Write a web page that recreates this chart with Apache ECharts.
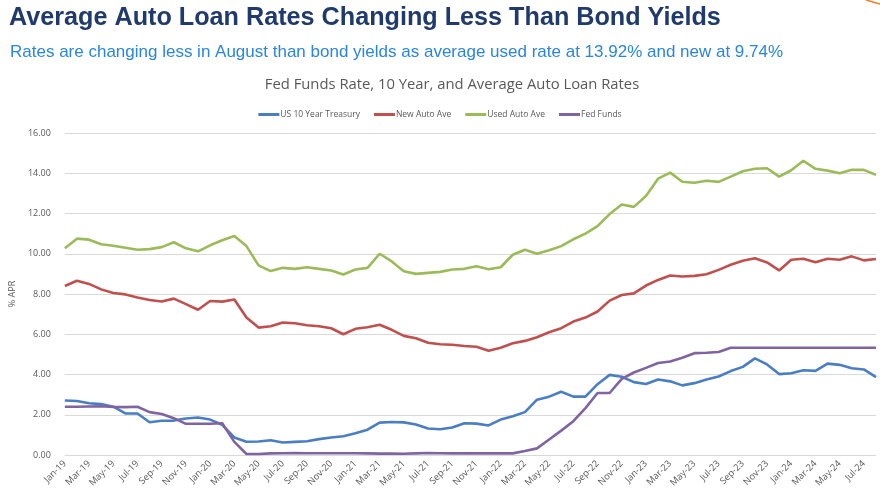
<!DOCTYPE html>
<html>
<head>
<meta charset="utf-8">
<script src="https://cdn.jsdelivr.net/npm/echarts@6/dist/echarts.min.js"></script>
<style>
html,body{margin:0;padding:0;background:#fff;}
#chart{width:880px;height:495px;}
</style>
</head>
<body>
<div id="chart"></div>
<script>
const months = ["Jan-19","Feb-19","Mar-19","Apr-19","May-19","Jun-19","Jul-19","Aug-19","Sep-19","Oct-19","Nov-19","Dec-19",
"Jan-20","Feb-20","Mar-20","Apr-20","May-20","Jun-20","Jul-20","Aug-20","Sep-20","Oct-20","Nov-20","Dec-20",
"Jan-21","Feb-21","Mar-21","Apr-21","May-21","Jun-21","Jul-21","Aug-21","Sep-21","Oct-21","Nov-21","Dec-21",
"Jan-22","Feb-22","Mar-22","Apr-22","May-22","Jun-22","Jul-22","Aug-22","Sep-22","Oct-22","Nov-22","Dec-22",
"Jan-23","Feb-23","Mar-23","Apr-23","May-23","Jun-23","Jul-23","Aug-23","Sep-23","Oct-23","Nov-23","Dec-23",
"Jan-24","Feb-24","Mar-24","Apr-24","May-24","Jun-24","Jul-24","Aug-24"];

const treasury10y = [2.71,2.68,2.57,2.53,2.40,2.07,2.06,1.63,1.70,1.71,1.81,1.86,
1.76,1.50,0.87,0.66,0.67,0.73,0.62,0.65,0.68,0.79,0.87,0.93,
1.08,1.26,1.61,1.64,1.62,1.52,1.32,1.28,1.37,1.58,1.56,1.47,
1.76,1.93,2.13,2.75,2.90,3.14,2.90,2.90,3.52,3.98,3.89,3.62,
3.53,3.75,3.66,3.46,3.57,3.75,3.90,4.17,4.38,4.80,4.50,4.02,
4.06,4.21,4.18,4.54,4.48,4.31,4.25,3.87];

const newAutoAve = [8.40,8.66,8.50,8.23,8.05,7.98,7.83,7.70,7.63,7.77,7.50,7.22,
7.65,7.62,7.73,6.83,6.33,6.40,6.58,6.55,6.45,6.40,6.30,6.00,
6.27,6.35,6.47,6.22,5.92,5.80,5.58,5.50,5.48,5.42,5.38,5.18,
5.33,5.55,5.67,5.85,6.10,6.30,6.63,6.83,7.13,7.67,7.95,8.03,
8.42,8.70,8.92,8.87,8.90,8.98,9.20,9.45,9.65,9.78,9.57,9.17,
9.70,9.75,9.58,9.75,9.70,9.87,9.67,9.74];

const usedAutoAve = [10.27,10.75,10.70,10.47,10.40,10.30,10.20,10.23,10.33,10.57,10.27,10.12,
10.42,10.67,10.88,10.38,9.42,9.14,9.30,9.25,9.33,9.25,9.17,8.97,
9.22,9.30,10.00,9.62,9.13,9.00,9.05,9.10,9.22,9.25,9.38,9.23,
9.33,9.95,10.20,10.00,10.17,10.38,10.72,11.00,11.37,11.97,12.45,12.33,
12.87,13.73,14.03,13.58,13.53,13.63,13.57,13.83,14.10,14.22,14.25,13.83,
14.15,14.62,14.22,14.13,14.00,14.17,14.17,13.92];

const fedFunds = [2.40,2.40,2.41,2.42,2.39,2.38,2.40,2.13,2.04,1.83,1.55,1.55,
1.55,1.58,0.65,0.05,0.05,0.08,0.09,0.10,0.09,0.09,0.09,0.09,
0.09,0.08,0.07,0.07,0.06,0.08,0.10,0.09,0.08,0.08,0.08,0.08,
0.08,0.08,0.20,0.33,0.77,1.21,1.68,2.33,3.08,3.08,3.78,4.10,
4.33,4.57,4.65,4.83,5.06,5.08,5.12,5.33,5.33,5.33,5.33,5.33,
5.33,5.33,5.33,5.33,5.33,5.33,5.33,5.33];

const seriesNames = ["US 10 Year Treasury","New Auto Ave","Used Auto Ave","Fed Funds"];
const seriesColors = ["#4A7EC2","#C0504D","#9BBB59","#8064A2"];
const seriesData = [treasury10y,newAutoAve,usedAutoAve,fedFunds];

const chart = echarts.init(document.getElementById('chart'), null, {renderer:'canvas'});
chart.setOption({
  backgroundColor:'#ffffff',
  animation:false,
  title:[
    {text:'Average Auto Loan Rates Changing Less Than Bond Yields', left:4, top:1,
     textStyle:{fontFamily:'Liberation Sans', fontWeight:'bold', fontSize:25.2, color:'#1F3A6B'}},
    {text:'Rates are changing less in August than bond yields as average used rate at 13.92% and new at 9.74%', left:5, top:39,
     textStyle:{fontFamily:'Liberation Sans', fontWeight:'normal', fontSize:17, color:'#2A85DD'}},
    {text:'Fed Funds Rate, 10 Year, and Average Auto Loan Rates', left:447, textAlign:'center', top:72,
     textStyle:{fontFamily:'Open Sans', fontWeight:'normal', fontSize:14.8, color:'#595959'}}
  ],
  legend:{
    top:105, left:'center',
    itemWidth:21, itemHeight:3, itemGap:14,
    icon:'rect',
    textStyle:{fontFamily:'Open Sans', fontSize:8.5, color:'#595959', padding:[0,0,0,-4]},
    data:seriesNames
  },
  grid:{left:63, right:4, top:133, bottom:40, containLabel:false},
  xAxis:{
    type:'category', data:months, boundaryGap:false,
    axisLine:{show:false}, axisTick:{show:false},
    axisLabel:{interval:1, rotate:45, fontFamily:'Open Sans', fontSize:9.3, color:'#595959', margin:7},
    splitLine:{show:false}
  },
  yAxis:{
    type:'value', min:0, max:16, interval:2,
    name:'% APR', nameLocation:'middle', nameRotate:90, nameGap:38,
    nameTextStyle:{fontFamily:'Open Sans', fontSize:9, color:'#595959'},
    axisLine:{show:false}, axisTick:{show:false},
    axisLabel:{formatter:v=>v.toFixed(2), fontFamily:'Open Sans', fontSize:9, color:'#595959', margin:14},
    splitLine:{lineStyle:{color:'#D9D9D9', width:1}}
  },
  series: seriesNames.map((n,i)=>({
    name:n, type:'line', data:seriesData[i], symbol:'none',
    lineStyle:{color:seriesColors[i], width:2.6},
    itemStyle:{color:seriesColors[i]},
    z: i===3 ? 3 : 2
  })),
  graphic:[
    {type:'line', shape:{x1:866, y1:0, x2:880, y2:4}, style:{stroke:'#F07C28', lineWidth:1.5}}
  ]
});
</script>
</body>
</html>
